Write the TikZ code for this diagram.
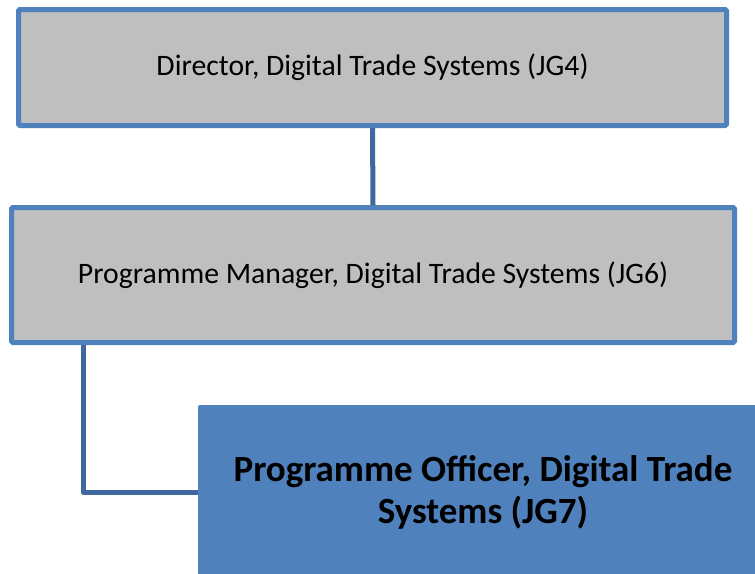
\documentclass[tikz,border=0pt]{standalone}
\usepackage{fontspec}
\setmainfont{Carlito}
\definecolor{boxgray}{RGB}{191,191,191}
\definecolor{accent}{RGB}{79,129,189}
\definecolor{connblue}{RGB}{64,104,158}
\begin{document}
\begin{tikzpicture}[x=1pt,y=1pt,
  graybox/.style={draw=accent, line width=5pt, fill=boxgray, rounded corners=1.5pt,
    inner sep=0pt, font=\fontsize{29.7}{35}\selectfont, text=black},
  bluebox/.style={fill=accent, draw=none, rounded corners=2pt, inner sep=0pt,
    align=center, font=\fontsize{37}{42}\selectfont\bfseries, text=black},
  conn/.style={draw=connblue, line width=5pt, line join=round}]
\useasboundingbox (0,0) rectangle (755,-573);
\clip (0,0) rectangle (755,-573);
\node[graybox, minimum width=708pt, minimum height=116pt] (b1) at (372.5,-67.5) {Director, Digital Trade Systems (JG4)};
\node[graybox, minimum width=723pt, minimum height=135pt] (b2) at (373,-275) {Programme Manager, Digital Trade Systems (JG6)};
\node[bluebox, minimum width=570pt, minimum height=175pt] (b3) at (483,-492.5) {Programme Officer, Digital Trade\\Systems (JG7)};
\coordinate (k) at (83.5,-492.5);
\draw[conn] (b1.south) -- (b2.north);
\draw[conn] (k |- b2.south) -- (k) -- (b3.west);
\end{tikzpicture}
\end{document}
